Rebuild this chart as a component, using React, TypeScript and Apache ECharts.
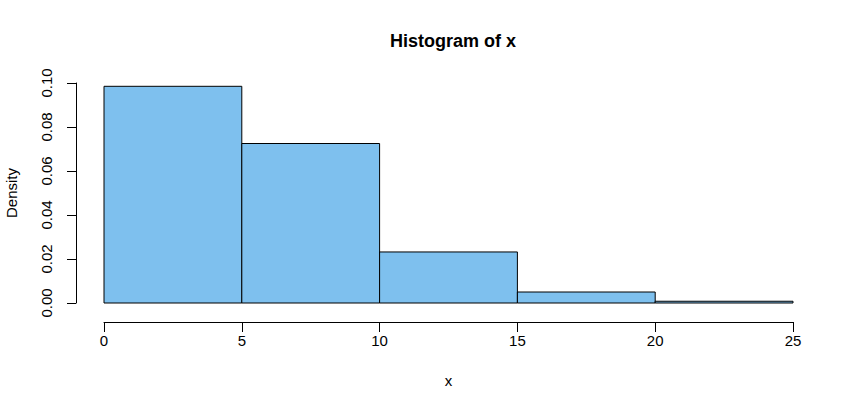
import React, { useEffect, useRef } from "react";
import * as echarts from "echarts";

const binStarts = [0, 5, 10, 15, 20];
const binEnds = [5, 10, 15, 20, 25];
const densities = [0.0985, 0.0725, 0.0232, 0.005, 0.0008];
const yTicks = [0, 0.02, 0.04, 0.06, 0.08, 0.1];
const xTicks = [0, 5, 10, 15, 20, 25];

export default function App() {
  const ref = useRef<HTMLDivElement>(null);
  useEffect(() => {
    if (!ref.current) return;
    const chart = echarts.init(ref.current, null, { renderer: "svg" });
    const font = "'Liberation Sans', Arial, sans-serif";
    const data = binStarts.map((s, i) => [s, binEnds[i], densities[i]]);
    chart.setOption({
      animation: false,
      backgroundColor: "#ffffff",
      textStyle: { fontFamily: font },
      title: {
        text: "Histogram of x",
        left: 448,
        top: 27,
        textAlign: "center",
        textStyle: { fontFamily: font, fontSize: 18, fontWeight: "bold", color: "#000" },
      },
      grid: {
        left: 104,
        right: 67,
        top: 83,
        bottom: 104,
        containLabel: false,
        outerBoundsMode: "none",
      },
      xAxis: {
        type: "value",
        min: xTicks[0],
        max: xTicks[xTicks.length - 1],
        interval: 5,
        offset: 19,
        name: "x",
        nameLocation: "middle",
        nameGap: 51,
        nameTextStyle: { fontFamily: font, fontSize: 15, color: "#000" },
        splitLine: { show: false },
        axisLine: { show: true, onZero: false, lineStyle: { color: "#000", width: 1 } },
        axisTick: { show: true, length: 10, lineStyle: { color: "#000" } },
        axisLabel: { fontFamily: font, fontSize: 15, color: "#000", margin: 11 },
      },
      yAxis: {
        type: "value",
        min: yTicks[0],
        max: yTicks[yTicks.length - 1],
        interval: 0.02,
        offset: 28,
        name: "Density",
        nameLocation: "middle",
        nameRotate: 90,
        nameGap: 57,
        nameTextStyle: { fontFamily: font, fontSize: 15, color: "#000" },
        splitLine: { show: false },
        axisLine: { show: true, onZero: false, lineStyle: { color: "#000", width: 1 } },
        axisTick: { show: true, length: 9, lineStyle: { color: "#000" } },
        axisLabel: {
          fontFamily: font,
          fontSize: 15,
          color: "#000",
          rotate: 90,
          margin: 22,
          formatter: (v: number) => v.toFixed(2),
        },
      },
      series: [
        {
          type: "custom",
          data,
          encode: { x: [0, 1], y: 2 },
          renderItem: (params: any, api: any) => {
            const p0 = api.coord([api.value(0), api.value(2)]);
            const p1 = api.coord([api.value(1), 0]);
            return {
              type: "rect",
              shape: { x: p0[0], y: p0[1], width: p1[0] - p0[0], height: p1[1] - p0[1] },
              style: { fill: "#7EC0EE", stroke: "#000", lineWidth: 1 },
            };
          },
        },
      ],
    });
    return () => chart.dispose();
  }, []);
  return <div ref={ref} style={{ width: 860, height: 407, position: "absolute", left: 0, top: 0 }} />;
}
